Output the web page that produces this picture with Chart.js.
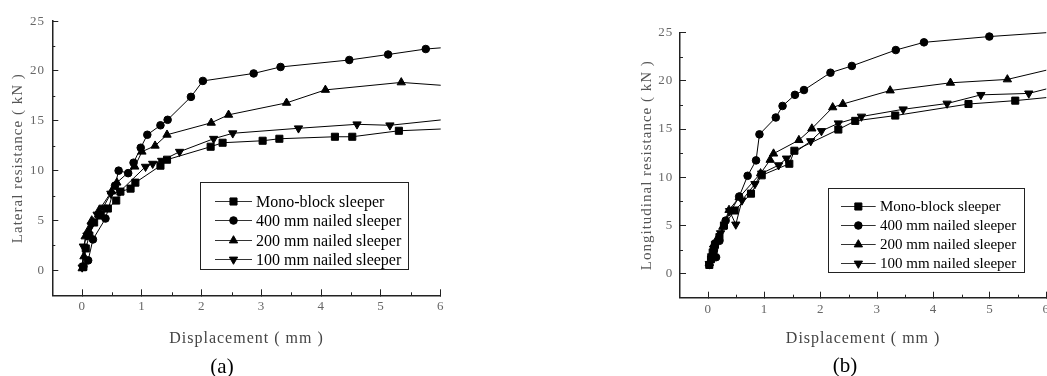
<!DOCTYPE html>
<html>
<head>
<meta charset="utf-8">
<script src="https://cdn.jsdelivr.net/npm/chart.js@4/dist/chart.umd.min.js"></script>
<style>
  html, body { margin: 0; padding: 0; background: #fff; overflow: hidden; width: 1047px; height: 376px; }
  canvas { position: absolute; top: 0; }
  #chartA { left: 0; }
  #chartB { left: 600px; }
  .tag { position: absolute; font-family: 'Liberation Serif', 'Times New Roman', serif; font-size: 21px; color: #000; transform: translate(-50%, -50%); }
</style>
</head>
<body>
<canvas id="chartA" width="470" height="376"></canvas>
<canvas id="chartB" width="460" height="376"></canvas>
<div class="tag" style="left:222px; top:366px">(a)</div>
<div class="tag" style="left:845px; top:365px">(b)</div>
<script>
const seriesLabels = ['Mono-block sleeper', '400 mm nailed sleeper', '200 mm nailed sleeper', '100 mm nailed sleeper'];

// (a) lateral resistance, [displacement mm, kN]
const monoA = [[0.02,0.35],[0.06,2.2],[0.12,3.5],[0.2,4.8],[0.31,5.5],[0.43,6.2],[0.57,7.0],[0.64,7.9],[0.81,8.2],[0.89,8.8],[1.31,10.5],[1.42,11.1],[2.15,12.4],[2.35,12.8],[3.02,13.0],[3.3,13.2],[4.23,13.4],[4.52,13.4],[5.3,14.0],[6.5,14.3]];
const n400A = [[0.02,0.4],[0.1,1.0],[0.18,3.1],[0.39,5.2],[0.55,8.5],[0.61,10.0],[0.77,9.75],[0.86,10.8],[0.98,12.3],[1.09,13.6],[1.31,14.55],[1.43,15.1],[1.82,17.4],[2.02,19.0],[2.87,19.75],[3.32,20.4],[4.47,21.1],[5.12,21.65],[5.75,22.2],[6.5,22.55]];
const n200A = [[0,0.2],[0.03,1.4],[0.05,3.4],[0.1,4.0],[0.16,5.0],[0.28,6.0],[0.49,7.9],[0.58,8.8],[0.88,10.4],[1.0,11.9],[1.22,12.5],[1.42,13.6],[2.16,14.8],[2.45,15.6],[3.42,16.8],[4.07,18.1],[5.34,18.85],[6.5,18.35]];
const n100A = [[0,0.3],[0.02,2.4],[0.08,3.5],[0.15,4.5],[0.25,5.6],[0.35,6.3],[0.48,7.7],[0.63,7.9],[1.06,10.4],[1.18,10.7],[1.33,11.0],[1.63,11.9],[2.2,13.2],[2.52,13.75],[3.62,14.25],[4.6,14.65],[5.15,14.55],[6.5,15.4]];

// (b) longitudinal resistance
const monoB = [[0.02,0.9],[0.05,1.5],[0.08,2.2],[0.12,3.0],[0.2,3.8],[0.28,5.0],[0.47,6.55],[0.76,8.3],[0.95,10.2],[1.44,11.4],[1.53,12.75],[2.31,14.95],[2.61,15.85],[3.32,16.4],[4.62,17.6],[5.45,17.95],[6.5,18.55]];
const n400B = [[0.02,0.9],[0.06,1.5],[0.1,2.4],[0.14,1.7],[0.2,3.4],[0.31,5.5],[0.55,8.0],[0.7,10.15],[0.85,11.75],[0.91,14.45],[1.2,16.2],[1.32,17.4],[1.54,18.55],[1.7,19.05],[2.17,20.85],[2.55,21.55],[3.33,23.2],[3.83,24.0],[4.99,24.6],[6.5,25.2]];
const n200B = [[0.02,1.1],[0.06,2.0],[0.1,3.0],[0.16,3.6],[0.26,4.85],[0.37,6.6],[0.55,7.9],[0.93,10.4],[1.1,11.8],[1.16,12.45],[1.61,13.85],[1.84,15.05],[2.21,17.25],[2.39,17.6],[3.23,19.0],[4.3,19.8],[5.31,20.15],[6.5,21.8]];
const n100B = [[0.02,1.0],[0.06,1.8],[0.1,2.6],[0.15,3.2],[0.22,4.2],[0.38,6.5],[0.49,5.1],[0.6,7.6],[0.83,9.3],[0.95,10.4],[1.25,11.25],[1.39,11.95],[1.82,13.75],[2.01,14.8],[2.31,15.6],[2.72,16.3],[3.46,17.05],[4.24,17.65],[4.84,18.55],[5.69,18.7],[6.5,19.9]];

const xRange = [-0.5, 6];
const yRange = [-2.5, 25];

const serif = "'Liberation Serif', 'Times New Roman', serif";
const markers = [
    { style: 'rect', rotation: 0, radius: 5 },
    { style: 'circle', rotation: 0, radius: 3.8 },
    { style: 'triangle', rotation: 0, radius: 4.8 },
    { style: 'triangle', rotation: 180, radius: 4.8 }
];

const spacing = {
    id: 'spacing',
    beforeDraw: chart => { chart.ctx.letterSpacing = '1px'; },
    afterDraw: chart => { chart.ctx.letterSpacing = '0px'; }
};

const minorTicks = {
    id: 'minorTicks',
    beforeDatasetsDraw: (chart) => {
        const { ctx, chartArea } = chart;
        const xs = chart.scales.x;
        const ys = chart.scales.y;
        ctx.save();
        ctx.strokeStyle = '#222';
        ctx.lineWidth = 1;
        ctx.beginPath();
        for (let i = 0; i + 1 < xs.ticks.length; i++) {
            const px = Math.round(xs.getPixelForValue((xs.ticks[i].value + xs.ticks[i + 1].value) / 2)) + 0.5;
            ctx.moveTo(px, chartArea.bottom);
            ctx.lineTo(px, chartArea.bottom - 3);
        }
        for (let i = 0; i + 1 < ys.ticks.length; i++) {
            const py = Math.round(ys.getPixelForValue((ys.ticks[i].value + ys.ticks[i + 1].value) / 2)) + 0.5;
            ctx.moveTo(chartArea.left, py);
            ctx.lineTo(chartArea.left + 3, py);
        }
        ctx.stroke();
        ctx.restore();
    }
};

function boxLegend(g) {
    return {
        id: 'boxLegend',
        afterDraw: (chart) => {
            const ctx = chart.ctx;
            ctx.save();
            ctx.letterSpacing = '0px';
            ctx.strokeStyle = '#222';
            ctx.lineWidth = 1;
            ctx.strokeRect(Math.round(g.x) + 0.5, Math.round(g.y) + 0.5, g.w, g.h);
            ctx.font = g.font + 'px ' + serif;
            ctx.textBaseline = 'middle';
            chart.data.datasets.forEach((ds, i) => {
                const yy = Math.round(g.y + g.first + i * g.row) + 0.5;
                ctx.strokeStyle = '#333';
                ctx.beginPath();
                ctx.moveTo(g.lx0, yy);
                ctx.lineTo(g.lx1, yy);
                ctx.stroke();
                ctx.fillStyle = '#000';
                ctx.strokeStyle = '#000';
                Chart.helpers.drawPoint(ctx, {
                    pointStyle: ds.pointStyle,
                    rotation: ds.pointRotation,
                    radius: ds.pointRadius,
                    borderWidth: 1
                }, (g.lx0 + g.lx1) / 2, yy);
                ctx.fillText(ds.label, g.tx, yy + 1);
            });
            ctx.restore();
        }
    };
}

function makeChart(id, series, yTitle, geo) {
    const ctx = document.getElementById(id).getContext('2d');
    return new Chart(ctx, {
        type: 'line',
        data: {
            datasets: series.map((pts, i) => ({
                label: seriesLabels[i],
                data: pts.map(p => ({ x: p[0], y: p[1] })),
                borderColor: '#000',
                backgroundColor: '#000',
                borderWidth: 1,
                pointStyle: markers[i].style,
                pointRotation: markers[i].rotation,
                pointRadius: markers[i].radius,
                pointBackgroundColor: '#000',
                pointBorderColor: '#000',
                pointBorderWidth: 1,
                tension: 0,
                clip: { left: 6, top: 6, right: 0, bottom: 6 }
            }))
        },
        options: {
            responsive: false,
            animation: false,
            events: [],
            layout: { padding: { top: geo.top, right: geo.right, left: 0, bottom: 0 } },
            plugins: {
                legend: { display: false },
                tooltip: { enabled: false }
            },
            scales: {
                x: {
                    type: 'linear',
                    min: xRange[0],
                    max: xRange[1],
                    afterFit: s => { s.height = geo.xh; },
                    border: { display: true, color: '#222', width: 1.5 },
                    grid: { drawOnChartArea: false, tickLength: -6, tickColor: '#222', tickWidth: 1 },
                    ticks: {
                        stepSize: 1,
                        includeBounds: false,
                        padding: geo.xpad,
                        color: '#666',
                        font: { family: serif, size: 13 },
                        maxRotation: 0
                    },
                    title: {
                        display: true,
                        text: 'Displacement ( mm )',
                        color: '#444',
                        font: { family: serif, size: 16 },
                        padding: { top: 0, bottom: 27.4 }
                    }
                },
                y: {
                    type: 'linear',
                    min: yRange[0],
                    max: yRange[1],
                    afterFit: s => { s.width = geo.yw; },
                    border: { display: true, color: '#222', width: 1.5 },
                    grid: { drawOnChartArea: false, tickLength: -6, tickColor: '#222', tickWidth: 1 },
                    ticks: {
                        stepSize: 5,
                        includeBounds: false,
                        padding: geo.ypad,
                        color: '#666',
                        font: { family: serif, size: 13 }
                    },
                    title: {
                        display: true,
                        text: yTitle,
                        color: '#555',
                        font: { family: serif, size: 15 },
                        padding: { top: geo.ytp, bottom: 0 }
                    }
                }
            }
        },
        plugins: [spacing, minorTicks, boxLegend(geo.legend)]
    });
}

makeChart('chartA', [monoA, n400A, n200A, n100A], 'Lateral resistance ( kN )', {
    top: 20, right: 29.3, xh: 80.7, yw: 52.3, xpad: 9.9, ypad: 13.3, ytp: 9,
    legend: { x: 200, y: 182, w: 208, h: 87, first: 19, row: 19.3, lx0: 215, lx1: 252, tx: 256, font: 16 }
});

makeChart('chartB', [monoB, n400B, n200B, n100B], 'Longitudinal resistance ( kN )', {
    top: 32.7, right: 11, xh: 78.3, yw: 80, xpad: 10.5, ypad: 12.7, ytp: 38.3,
    legend: { x: 228.3, y: 187.7, w: 196, h: 84, first: 18.3, row: 19.1, lx0: 241, lx1: 275.7, tx: 280, font: 15 }
});
</script>
</body>
</html>
